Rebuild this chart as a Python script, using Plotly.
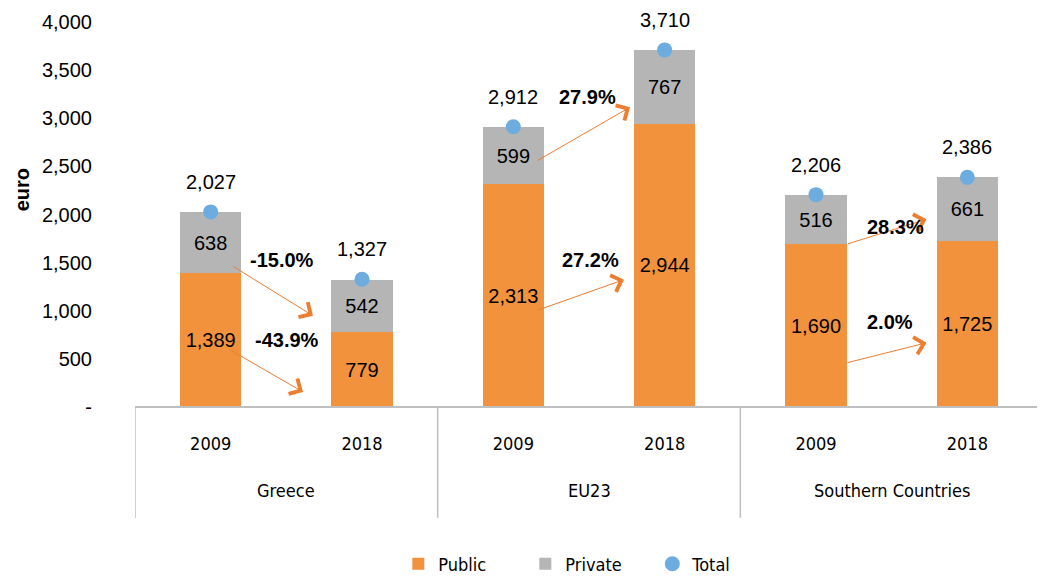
import plotly.graph_objects as go

# ---- data ----
groups = ["Greece", "EU23", "Southern Countries"]
years = ["2009", "2018", "2009", "2018", "2009", "2018"]
public = [1389, 779, 2313, 2944, 1690, 1725]
private = [638, 542, 599, 767, 516, 661]
total = [2027, 1327, 2912, 3710, 2206, 2386]
change_labels = ["-15.0%", "-43.9%", "27.9%", "27.2%", "28.3%", "2.0%"]
y_ticks = [0, 500, 1000, 1500, 2000, 2500, 3000, 3500, 4000]
y_ticktext = ["-", "500", "1,000", "1,500", "2,000", "2,500", "3,000", "3,500", "4,000"]

# ---- styling / annotation geometry (not data) ----
ORANGE = "#F2923D"
GRAY = "#B5B5B5"
BLUE = "#6CACDF"
ARROW = "#EE7D2F"
LINE = "#BFBFBF"
FONT = "Liberation Sans, Arial, Helvetica, sans-serif"
NARROW = "Liberation Sans Narrow, Arial Narrow, DejaVu Sans Condensed, sans-serif"

# arrows: (tail_x, tail_y, head_x, head_y) in data coordinates
arrows = [
    (0.14, 1469, 0.676, 948),
    (0.128, 594, 0.61, 156),
    (2.15, 2552, 2.771, 3115),
    (2.15, 1000, 2.731, 1323),
    (4.2, 1690, 4.73, 1950),
    (4.2, 458, 4.73, 667),
]
# change label positions
label_pos = [
    (0.471, 1531),
    (0.504, 698),
    (2.493, 3219),
    (2.507, 1531),
    (4.522, 1865),
    (4.489, 885),
]

x = list(range(len(years)))

fig = go.Figure()
fig.add_trace(go.Bar(
    x=x, y=public, name="Public", marker=dict(color=ORANGE, line=dict(width=0)),
    width=0.405, text=[f"{v:,}" for v in public], textposition="inside",
    insidetextanchor="middle", textangle=0,
    textfont=dict(family=FONT, size=20, color="black"),
))
fig.add_trace(go.Bar(
    x=x, y=private, name="Private", marker=dict(color=GRAY, line=dict(width=0)),
    width=0.405, text=[f"{v:,}" for v in private], textposition="inside",
    insidetextanchor="middle", textangle=0,
    textfont=dict(family=FONT, size=20, color="black"),
))
fig.add_trace(go.Scatter(
    x=x, y=total, name="Total", mode="markers",
    marker=dict(color=BLUE, size=15), cliponaxis=False,
))

annotations = []
for xi, t in zip(x, total):
    annotations.append(dict(x=xi, y=t, xref="x", yref="y", text=f"{t:,}",
                            showarrow=False, yshift=30,
                            font=dict(family=FONT, size=20, color="black")))
for (tx, ty, hx, hy) in arrows:
    annotations.append(dict(x=hx, y=hy, ax=tx, ay=ty, xref="x", yref="y",
                            axref="x", ayref="y", text="", showarrow=True,
                            arrowhead=4, arrowsize=3.4, arrowwidth=1.0,
                            arrowcolor=ARROW, standoff=0, startstandoff=0))
for (lx, ly), txt in zip(label_pos, change_labels):
    annotations.append(dict(x=lx, y=ly, xref="x", yref="y", text=f"<b>{txt}</b>",
                            showarrow=False,
                            font=dict(family=FONT, size=20, color="black")))
for gi, g in enumerate(groups):
    annotations.append(dict(x=gi * 2 + 0.5, y=-0.218, xref="x", yref="paper",
                            text=g, showarrow=False, yanchor="middle",
                            font=dict(family=NARROW, size=18, color="black")))
annotations.append(dict(x=-0.125, y=0.564, xref="paper", yref="paper",
                        text="<b>euro</b>", textangle=-90, showarrow=False,
                        xanchor="center", yanchor="middle",
                        font=dict(family=FONT, size=20, color="black")))

shapes = []
for sx in [-0.5, 1.5, 3.5, 5.5]:
    shapes.append(dict(type="line", x0=sx, x1=sx, y0=0, y1=-0.288, xref="x",
                       yref="paper", line=dict(color=LINE, width=1.5)))
shapes.append(dict(type="line", x0=-0.5, x1=5.5, y0=0, y1=0, xref="x",
                   yref="paper", line=dict(color=LINE, width=2)))

# the page body adds an 8px margin; size the figure so the plot area lands
# at the reference position inside the 1045x576 window
fig.update_layout(
    barmode="stack",
    width=1037, height=568,
    margin=dict(l=127, r=2, t=14, b=169, autoexpand=False),
    paper_bgcolor="white", plot_bgcolor="white",
    font=dict(family=FONT, size=20, color="black"),
    showlegend=True,
    legend=dict(orientation="h", x=0.29, xanchor="left", y=-0.408,
                yanchor="middle", font=dict(family=NARROW, size=18),
                itemwidth=30, entrywidth=82, entrywidthmode="pixels",
                traceorder="normal"),
    annotations=annotations,
    shapes=shapes,
    xaxis=dict(range=[-0.5, 5.5], tickvals=x, ticktext=years,
               showgrid=False, zeroline=False, showline=False,
               ticks="outside", ticklen=20, tickcolor="rgba(0,0,0,0)",
               tickfont=dict(family=NARROW, size=18, color="black"),
               automargin=False, fixedrange=True),
    yaxis=dict(range=[0, 4000], tickvals=y_ticks, ticktext=y_ticktext,
               showgrid=False, zeroline=False, showline=False,
               ticks="outside", ticklen=38, tickcolor="rgba(0,0,0,0)",
               tickfont=dict(family=FONT, size=20, color="black"),
               automargin=False, fixedrange=True),
)

fig.write_html("out.html")
